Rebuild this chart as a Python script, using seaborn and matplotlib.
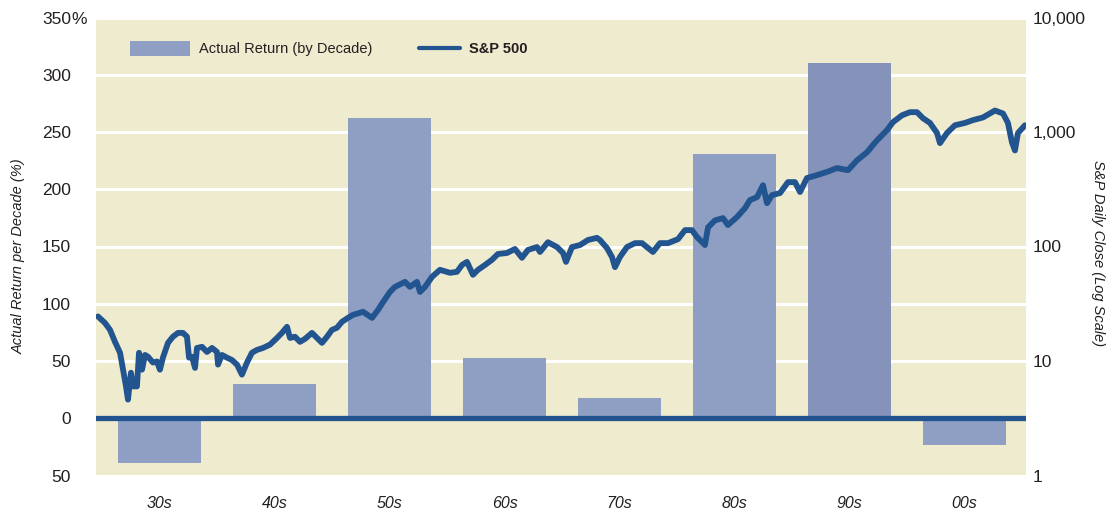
import matplotlib
matplotlib.use("Agg")
import matplotlib.pyplot as plt
from matplotlib.patches import Patch
from matplotlib.lines import Line2D
from matplotlib.ticker import NullLocator
import seaborn as sns

# ---- data {{{
decades = ['30s', '40s', '50s', '60s', '70s', '80s', '90s', '00s']
decade_mid = [1935, 1945, 1955, 1965, 1975, 1985, 1995, 2005]
decade_return = [-39, 30, 262, 53, 18, 231, 310, -23]

# S&P 500 close (year, index level)
sp_year = [
	1929.65, 1930.26, 1930.70, 1931.13, 1931.57, 1931.83, 1932.09, 1932.26, 1932.52, 1932.70,
	1933.04, 1933.22, 1933.48, 1933.74, 1934.00, 1934.43, 1934.78, 1935.04, 1935.30, 1935.74,
	1936.17, 1936.61, 1937.04, 1937.39, 1937.57, 1937.83, 1938.09, 1938.26, 1938.70, 1939.13,
	1939.57, 1940.00, 1940.09, 1940.43, 1940.87, 1941.30, 1941.74, 1942.17, 1942.61, 1943.04,
	1943.48, 1944.00, 1944.61, 1945.22, 1945.65, 1946.09, 1946.35, 1946.78, 1947.22, 1947.65,
	1948.26, 1948.70, 1949.13, 1949.57, 1950.00, 1950.43, 1950.87, 1951.39, 1951.83, 1952.70,
	1953.48, 1954.00, 1954.43, 1955.04, 1955.48, 1956.35, 1956.78, 1957.39, 1957.65, 1958.09,
	1958.70, 1959.39, 1960.26, 1960.87, 1961.30, 1961.74, 1962.26, 1962.70, 1963.30, 1963.91,
	1964.43, 1965.22, 1965.91, 1966.52, 1967.04, 1967.83, 1968.09, 1968.78, 1969.57, 1970.09,
	1970.35, 1970.87, 1971.57, 1972.26, 1973.04, 1973.30, 1973.91, 1974.35, 1974.61, 1975.04,
	1975.65, 1976.35, 1976.96, 1977.48, 1977.91, 1978.52, 1979.22, 1980.09, 1980.70, 1981.30,
	1981.74, 1982.43, 1982.70, 1983.30, 1984.00, 1984.43, 1985.22, 1985.91, 1986.35, 1986.96,
	1987.48, 1987.83, 1988.26, 1988.96, 1989.65, 1990.26, 1990.70, 1991.30, 1992.17, 1993.04,
	1993.91, 1994.87, 1995.65, 1996.52, 1997.39, 1998.26, 1998.78, 1999.57, 2000.26, 2000.87,
	2001.39, 2002.00, 2002.61, 2002.87, 2003.48, 2004.17, 2005.04, 2005.74, 2006.61, 2007.65,
	2008.35, 2008.78, 2009.13, 2009.39, 2009.65, 2010.26,
]
sp_close = [
	24.5, 21.5, 18.7, 14.7, 11.8, 8.4, 6.0, 4.6, 7.9, 6.0,
	6.0, 11.8, 8.4, 11.3, 10.9, 9.7, 9.9, 8.4, 10.7, 14.4,
	16.3, 17.6, 17.6, 16.3, 10.7, 10.9, 8.7, 13.0, 13.3, 12.0,
	13.0, 12.0, 9.3, 11.3, 10.7, 10.2, 9.3, 7.6, 9.7, 11.8,
	12.5, 13.0, 13.9, 15.9, 17.6, 19.9, 15.9, 16.3, 14.7, 15.6,
	17.6, 15.9, 14.4, 16.3, 18.7, 19.5, 22.0, 23.8, 25.3, 26.9,
	23.8, 27.9, 32.6, 40.1, 44.4, 49.1, 44.4, 49.1, 40.1, 44.4,
	54.3, 62.6, 58.9, 60.1, 68.9, 73.4, 56.6, 62.6, 68.9, 76.5,
	86.0, 87.8, 95.1, 79.7, 93.3, 98.9, 89.6, 109, 98.9, 87.8,
	73.4, 98.9, 103, 114, 119, 114, 97, 81, 66, 81,
	98.9, 107, 107, 97, 89.6, 107, 107, 116, 139, 139,
	121, 103, 147, 169, 177, 154, 181, 216, 254, 270,
	343, 239, 281, 293, 365, 365, 299, 396, 420, 448,
	484, 464, 565, 665, 845, 1037, 1218, 1400, 1490, 1490,
	1320, 1200, 980, 800, 980, 1145, 1200, 1270, 1340, 1540,
	1450, 1200, 810, 690, 980, 1145,
]

left_ticks = [-50, 0, 50, 100, 150, 200, 250, 300, 350]
left_labels = ['50', '0', '50', '100', '150', '200', '250', '300', '350']
right_ticks = [1, 10, 100, 1000, 10000]
right_labels = ['1', '10', '100', '1,000', '10,000']
#}}}

# ---- style {{{
BG = '#EFEBCE'
BAR = '#8E9FC3'
BAR_DARK = '#8592BA'
LINE = '#22548F'
TEXT = '#231F20'

sns.set_style('white')
plt.rcParams['font.family'] = ['Liberation Sans', 'DejaVu Sans']
plt.rcParams['text.color'] = TEXT
plt.rcParams['xtick.color'] = TEXT
plt.rcParams['ytick.color'] = TEXT
#}}}

W, H = 1106, 512
fig = plt.figure(figsize=(W / 100, H / 100), dpi=100)
ax = fig.add_axes([96 / W, (H - 475.5) / H, 930 / W, 458 / H])
ax.set_facecolor(BG)

palette = {d: BAR for d in decades}
palette['90s'] = BAR_DARK

# bars (left axis)
sns.barplot(x=decade_mid, y=decade_return, hue=decades, palette=palette,
            native_scale=True, width=0.73, dodge=False, errorbar=None,
            saturation=1, legend=False, linewidth=0, ax=ax, zorder=2)
ax.axhline(0, color=LINE, lw=3.8, zorder=3)

ax.set_xlim(1929.48, 2010.35)
ax.set_ylim(-50, 350)
ax.set_yticks(left_ticks, left_labels, fontsize=12.5)
ax.set_xticks(decade_mid, decades, fontsize=11.5, fontstyle='italic')
ax.tick_params(axis='y', length=0, pad=18)
ax.tick_params(axis='x', length=0, pad=15)
ax.set_xlabel('')
ax.set_ylabel('')
ax.yaxis.grid(True, color='white', lw=2.2)
ax.xaxis.grid(False)
ax.set_axisbelow(True)
for sp in ax.spines.values():
	sp.set_visible(False)
ax.annotate('%', xy=(0, 350), xycoords=('axes fraction', 'data'),
            xytext=(-18, 0), textcoords='offset points',
            ha='left', va='center_baseline', fontsize=12.5)

# S&P line (right log axis)
ax2 = ax.twinx()
sns.lineplot(x=sp_year, y=sp_close, ax=ax2, color=LINE, linewidth=4.2,
             errorbar=None, zorder=4)
ax2.set_yscale('log')
ax2.set_ylim(1, 10000)
ax2.set_xlim(1929.48, 2010.35)
ax2.set_yticks(right_ticks, right_labels, fontsize=12.5)
ax2.yaxis.set_minor_locator(NullLocator())
ax2.tick_params(axis='y', length=0, pad=5)
ax2.set_xlabel('')
ax2.set_ylabel('')
ax2.grid(False)
for sp in ax2.spines.values():
	sp.set_visible(False)

# axis titles
fig.text(18.5 / W, 1 - 256 / H, 'Actual Return per Decade (%)', rotation=90,
         ha='center', va='center', fontsize=10.5, fontstyle='italic')
fig.text(1098 / W, 1 - 253 / H, 'S&P Daily Close (Log Scale)', rotation=-90,
         ha='center', va='center', fontsize=10.5, fontstyle='italic')

# legend
fs = 10.5
px = fs * 100 / 72
leg1 = ax2.legend(handles=[Patch(facecolor=BAR, edgecolor='none')],
                  labels=['Actual Return (by Decade)'],
                  loc='center left', bbox_to_anchor=(130 / W, 1 - 48.75 / H),
                  bbox_transform=fig.transFigure, frameon=False,
                  borderpad=0, borderaxespad=0, fontsize=fs,
                  handlelength=60 / px, handleheight=17.5 / px, handletextpad=9 / px)
ax2.add_artist(leg1)
leg2 = ax2.legend(handles=[Line2D([], [], color=LINE, lw=3)],
                  labels=['S&P 500'],
                  loc='center left', bbox_to_anchor=(419 / W, 1 - 48.75 / H),
                  bbox_transform=fig.transFigure, frameon=False,
                  borderpad=0, borderaxespad=0, fontsize=fs,
                  handlelength=41 / px, handletextpad=9 / px)
for t in leg2.get_texts():
	t.set_fontweight('bold')

fig.savefig('out.png', dpi=100)
